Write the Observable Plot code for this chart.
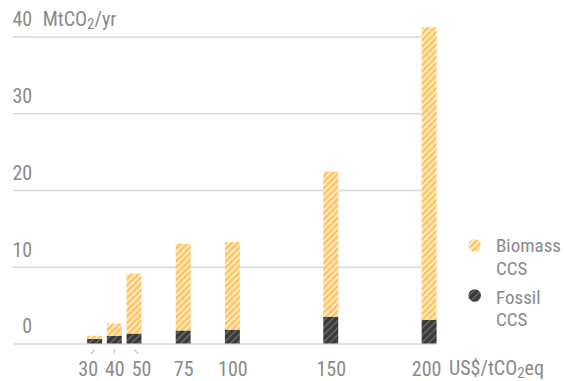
<!DOCTYPE html>
<html><head><meta charset="utf-8">
<script src="https://cdn.jsdelivr.net/npm/d3@7"></script>
<script src="https://cdn.jsdelivr.net/npm/@observablehq/plot@0.6"></script>
<style>body{margin:0;background:#fff}</style>
</head><body><div id="chart"></div>
<script>
// Data
const costs   = [30, 40, 50, 75, 100, 150, 200];          // US$/tCO2eq
const fossil  = [0.6, 1.0, 1.3, 1.7, 1.8, 3.5, 3.1];      // MtCO2/yr
const biomass = [0.4, 1.6, 7.8, 11.3, 11.4, 18.9, 38.1];  // MtCO2/yr
const yTicks  = [0, 10, 20, 30, 40];
const xTickLabels = costs.map(String);
const seriesNames = [["Biomass", "CCS"], ["Fossil", "CCS"]];

const FONT = '"Roboto Condensed","Liberation Sans Narrow",Roboto,sans-serif';
const TXT = "#8a8a8a";
const rows = costs.map((c, i) => ({cost: c, fossil: fossil[i], biomass: biomass[i]}));
const halfW = 3.8;
const nudge = {30: -7, 50: 7, 200: -3};

const plot = Plot.plot({
  width: 566, height: 381,
  marginLeft: 13, marginRight: 129, marginTop: 21.15, marginBottom: 37.5,
  x: {type: "linear", domain: [-11.5, 204], axis: null},
  y: {domain: [0, 42], axis: null},
  style: {fontFamily: FONT, fontSize: "20px", color: TXT, background: "#fff"},
  marks: [
    Plot.ruleY(yTicks, {stroke: "#d9d9d9", strokeWidth: 1.5}),
    Plot.rect(rows, {x1: d => d.cost - halfW, x2: d => d.cost + halfW, y1: 0, y2: "fossil", fill: "url(#hatch-fossil)"}),
    Plot.rect(rows, {x1: d => d.cost - halfW, x2: d => d.cost + halfW, y1: "fossil", y2: d => d.fossil + d.biomass, fill: "url(#hatch-biomass)"}),
    Plot.text(yTicks, {y: d => d, text: d => String(d), frameAnchor: "left", textAnchor: "end", lineAnchor: "bottom", dx: 18.7, dy: -10.7, fill: TXT}),
    ...costs.map((c, i) => Plot.text([c], {x: d => d, text: () => xTickLabels[i], frameAnchor: "bottom", lineAnchor: "bottom", dy: 31.5, dx: nudge[c] || 0, fill: TXT}))
  ]
});

const svg = d3.select(plot);
const defs = svg.insert("defs", ":first-child");
function hatch(id, size, stripe, bg, fg) {
  const p = defs.append("pattern").attr("id", id).attr("patternUnits", "userSpaceOnUse")
    .attr("width", size).attr("height", size).attr("patternTransform", "rotate(45)");
  p.append("rect").attr("width", size).attr("height", size).attr("fill", bg);
  p.append("rect").attr("width", stripe).attr("height", size).attr("fill", fg);
}
hatch("hatch-biomass", 4.4, 2.4, "#ffebc6", "#ffc460");
hatch("hatch-fossil", 5, 1.2, "#3b3b3b", "#737373");

const xs = plot.scale("x"), ys = plot.scale("y");
const y0 = ys.apply(0);

// leader lines for crowded labels
[[30, -4], [40, 0], [50, 4.5]].forEach(([c, s]) => {
  const px = xs.apply(c);
  svg.append("line").attr("x1", px).attr("x2", px + s).attr("y1", y0 + 6).attr("y2", y0 + 10.5)
    .attr("stroke", "#c8c8c8").attr("stroke-width", 1.2);
});

// axis titles
const yt = svg.append("text").attr("x", 42.7).attr("y", ys.apply(40) - 10.7).attr("fill", TXT).attr("text-anchor", "start");
yt.append("tspan").text("MtCO");
yt.append("tspan").attr("font-size", "15px").attr("dy", 3).text("2");
yt.append("tspan").attr("dy", -3).text("/yr");

const xt = svg.append("text").attr("x", 449).attr("y", y0 + 31.5).attr("fill", TXT).attr("text-anchor", "start");
xt.append("tspan").text("US$/tCO");
xt.append("tspan").attr("font-size", "15px").attr("dy", 3).text("2");
xt.append("tspan").attr("dy", -3).text("eq");

// legend
const legend = [
  {pat: "url(#hatch-biomass)", cy: 245.5, lines: seriesNames[0], base: 252},
  {pat: "url(#hatch-fossil)", cy: 295.5, lines: seriesNames[1], base: 303.5}
];
legend.forEach(l => {
  svg.append("circle").attr("cx", 474.7).attr("cy", l.cy).attr("r", 6.3).attr("fill", l.pat);
  l.lines.forEach((t, k) => svg.append("text").attr("x", 496).attr("y", l.base + k * 22.5)
    .attr("fill", TXT).attr("text-anchor", "start").attr("font-size", "19px").text(t));
});

document.getElementById("chart").append(plot);
</script>
</body></html>
